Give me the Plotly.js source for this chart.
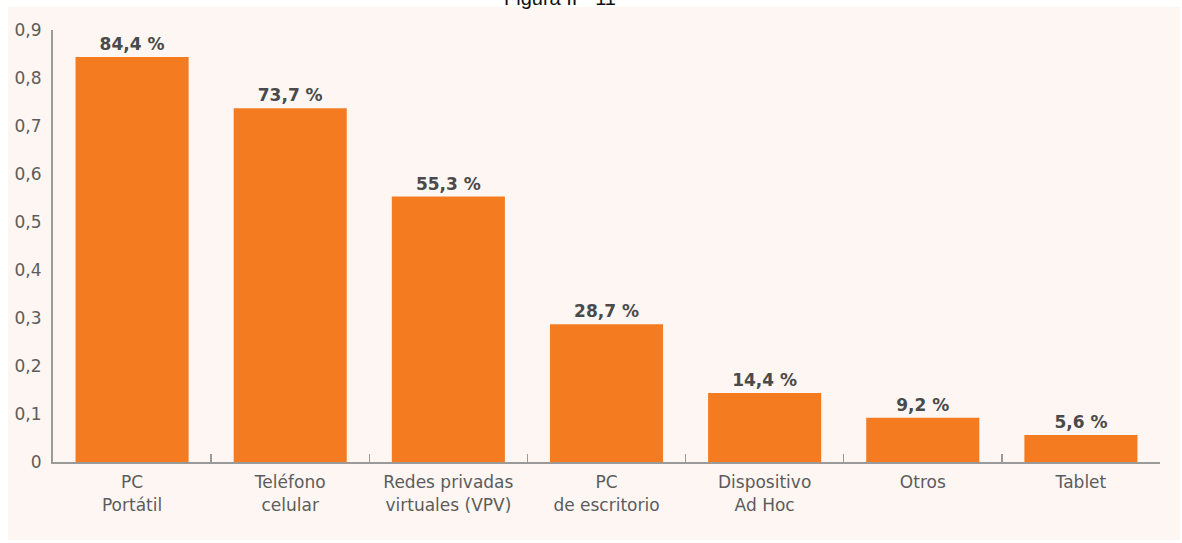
<!DOCTYPE html>
<html>
<head>
<meta charset="utf-8">
<script src="https://cdn.plot.ly/plotly-3.0.1.min.js"></script>
<style>html,body{margin:0;padding:0;background:#fff;}#chart{width:1182px;height:543px;}</style>
</head>
<body>
<div id="chart"></div>
<script>
const categories = ["PC<br>Portátil", "Teléfono<br>celular", "Redes privadas<br>virtuales (VPV)", "PC<br>de escritorio", "Dispositivo<br>Ad Hoc", "Otros", "Tablet"];
const values = [0.844, 0.737, 0.553, 0.287, 0.144, 0.092, 0.056];
const valueLabels = ["84,4 %", "73,7 %", "55,3 %", "28,7 %", "14,4 %", "9,2 %", "5,6 %"];
const yTickVals = [0, 0.1, 0.2, 0.3, 0.4, 0.5, 0.6, 0.7, 0.8, 0.9];
const yTickText = ["0", "0,1", "0,2", "0,3", "0,4", "0,5", "0,6", "0,7", "0,8", "0,9"];
const chartTitle = "Figura II - 11";

const trace = {
  type: "bar",
  x: categories,
  y: values,
  text: valueLabels,
  textposition: "outside",
  cliponaxis: false,
  textfont: {family: "DejaVu Sans, sans-serif", size: 17, color: "#4a4a4a", weight: 700},
  marker: {color: "#F47B20"},
  hoverinfo: "skip"
};

const layout = {
  width: 1182,
  height: 543,
  paper_bgcolor: "#ffffff",
  plot_bgcolor: "rgba(0,0,0,0)",
  margin: {l: 53, r: 22, t: 30, b: 81},
  bargap: 0.285,
  showlegend: false,
  xaxis: {
    type: "category",
    showline: true,
    linecolor: "#9a9a9a",
    linewidth: 2,
    ticks: "inside",
    tickson: "boundaries",
    ticklen: 8,
    tickwidth: 1.5,
    tickcolor: "#9a9a9a",
    showgrid: false,
    tickfont: {family: "DejaVu Sans, sans-serif", size: 17, color: "#5c5c5c"},
    ticklabelstandoff: 4
  },
  yaxis: {
    range: [0, 0.9],
    showline: true,
    linecolor: "#9a9a9a",
    linewidth: 2,
    showgrid: false,
    zeroline: false,
    ticks: "",
    tickvals: yTickVals,
    ticktext: yTickText,
    tickfont: {family: "DejaVu Sans, sans-serif", size: 17, color: "#5c5c5c"},
    ticklabelstandoff: 6
  },
  shapes: [{
    type: "rect", xref: "paper", yref: "paper", layer: "below",
    x0: -45 / 1107, x1: 1127 / 1107, y0: -78 / 432, y1: 1 + 23 / 432,
    fillcolor: "#FDF6F2", line: {width: 0}
  }],
  annotations: [{
    text: chartTitle, xref: "paper", yref: "paper",
    x: (560 - 53) / 1107, y: 1 + 30 / 432, yanchor: "middle", xanchor: "center",
    yshift: 2,
    showarrow: false,
    font: {family: "Liberation Sans, Arial, sans-serif", size: 20, color: "#111"}
  }]
};

Plotly.newPlot("chart", [trace], layout, {displayModeBar: false, staticPlot: true});
</script>
</body>
</html>
